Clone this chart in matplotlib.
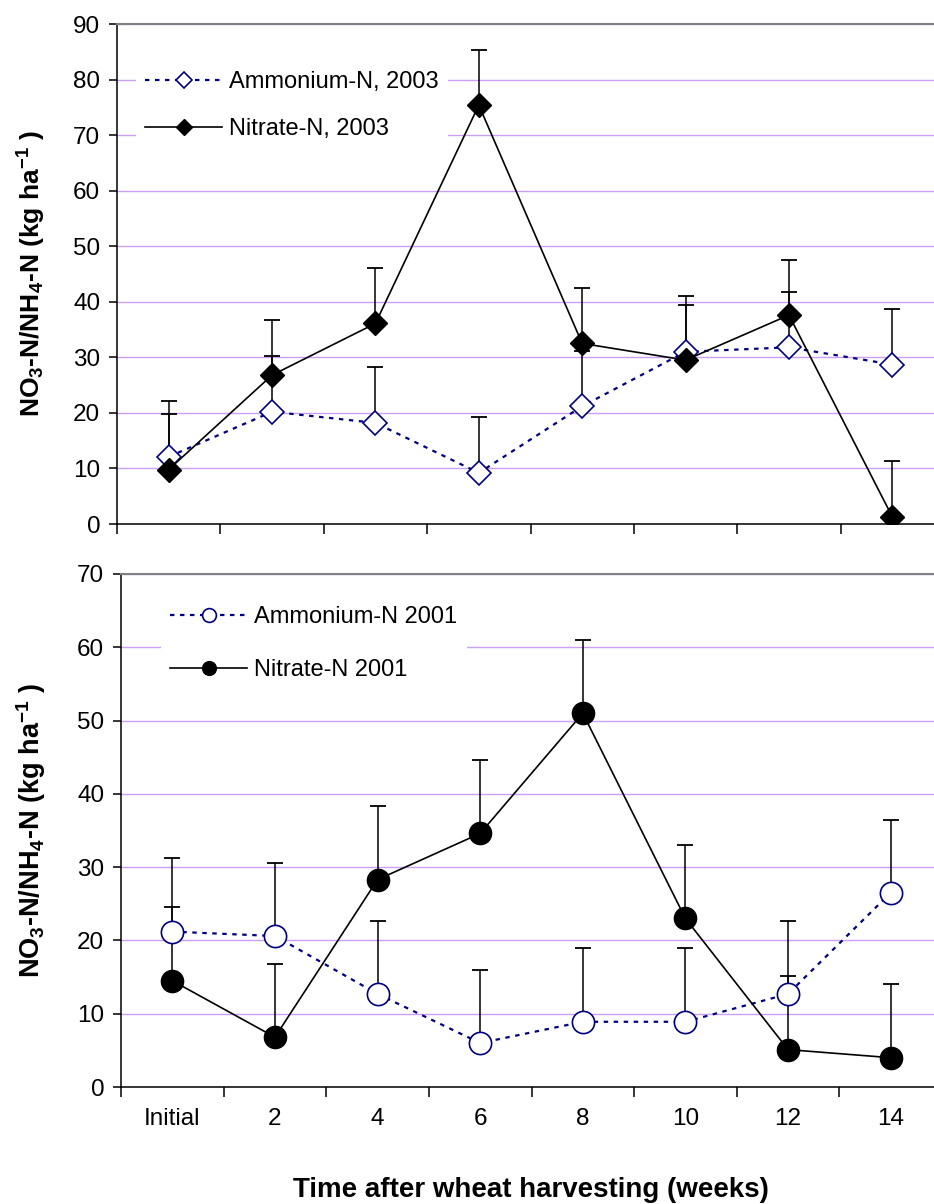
import numpy as np
import matplotlib
matplotlib.use('Agg')
import matplotlib.pyplot as plt

plt.rcParams['font.family'] = ['Liberation Sans', 'DejaVu Sans']
plt.rcParams['mathtext.fontset'] = 'custom'
plt.rcParams['mathtext.rm'] = 'Liberation Sans'
plt.rcParams['mathtext.bf'] = 'Liberation Sans:bold'
plt.rcParams['mathtext.default'] = 'regular'

# categories
weeks = ['Initial', '2', '4', '6', '8', '10', '12', '14']

# 2003 data
ammonium_2003 = [12.1, 20.2, 18.2, 9.2, 21.2, 31.0, 31.8, 28.7]
nitrate_2003 = [9.8, 26.8, 36.1, 75.4, 32.5, 29.5, 37.6, 1.3]
ammonium_2003_err = [10, 10, 10, 10, 10, 10, 10, 10]
nitrate_2003_err = [10, 10, 10, 10, 10, 10, 10, 10]

# 2001 data
ammonium_2001 = [21.2, 20.6, 12.7, 6.0, 8.9, 8.9, 12.7, 26.5]
nitrate_2001 = [14.5, 6.8, 28.3, 34.6, 51.0, 23.0, 5.1, 4.0]
ammonium_2001_err = [10, 10, 10, 10, 10, 10, 10, 10]
nitrate_2001_err = [10, 10, 10, 10, 10, 10, 10, 10]

W, H = 934, 1204
fig = plt.figure(figsize=(W / 100, H / 100), dpi=100)

grid_col = '#c9a0f5'
navy = '#000080'
ylab = r'NO$_{3}$-N/NH$_{4}$-N (kg ha$^{-1}$ )'


def panel(rect, amm, amm_err, nit, nit_err, ymax, amm_label, nit_label,
          marker, ms, show_labels, leg_xy, leg_spacing, ylab_x, ylab_size):
    ax = fig.add_axes(rect)
    x = np.arange(len(weeks))
    amm = np.array(amm)
    nit = np.array(nit)

    # error bars (upper only)
    for vals, err in ((amm, np.array(amm_err)), (nit, np.array(nit_err))):
        ax.vlines(x, vals, vals + err, color='black', lw=1.1, zorder=3)
        ax.plot(x, vals + err, ls='none', marker='_', ms=11, mew=1.3,
                color='black', zorder=3)

    ax.plot(x, amm, ls=(0, (2, 2.5)), lw=1.6, color=navy, marker=marker,
            ms=ms, mfc='white', mec=navy, mew=1.2, label=amm_label, zorder=4)
    ax.plot(x, nit, ls='-', lw=1.2, color='black', marker=marker,
            ms=ms, mfc='black', mec='black', label=nit_label, zorder=5)

    ax.set_xlim(-0.5, len(weeks) - 0.5)
    ax.set_ylim(0, ymax)
    ax.set_yticks(np.arange(0, ymax + 1, 10))
    ax.yaxis.grid(True, color=grid_col, lw=1.0)
    ax.set_axisbelow(True)

    ax.set_xticks(x)
    ax.set_xticks(np.arange(len(weeks) + 1) - 0.5, minor=True)
    ax.tick_params(axis='x', which='major', length=0, pad=15, labelsize=17.5)
    ax.tick_params(axis='x', which='minor', length=7, width=1.1, direction='out')
    ax.tick_params(axis='y', length=6, width=1.1, pad=6, labelsize=17.5)
    if show_labels:
        ax.set_xticklabels(weeks)
    else:
        ax.set_xticklabels([])

    ax.spines['right'].set_visible(False)
    ax.spines['top'].set_color('#808080')
    ax.spines['top'].set_linewidth(1.5)
    ax.spines['left'].set_linewidth(1.1)
    ax.spines['bottom'].set_linewidth(1.1)

    ax.set_ylabel(ylab, fontsize=ylab_size, fontweight='bold')
    ax.yaxis.set_label_coords(ylab_x, 0.5)

    leg = ax.legend(loc='upper left', bbox_to_anchor=leg_xy,
                    bbox_transform=fig.transFigure, borderaxespad=0,
                    fontsize=17, handlelength=3.25, handletextpad=0.3,
                    labelspacing=leg_spacing, markerscale=0.62,
                    frameon=True, fancybox=False, framealpha=1,
                    edgecolor='none', facecolor='white')
    leg.set_zorder(6)
    return ax


panel([117 / W, 1 - 524 / H, 827 / W, 500 / H],
      ammonium_2003, ammonium_2003_err, nitrate_2003, nitrate_2003_err, 90,
      'Ammonium-N, 2003', 'Nitrate-N, 2003', 'D', 12.5, False,
      (136 / W, 1 - 62 / H), 1.05, (48 - 117) / 827, 19)

panel([121 / W, 1 - 1087 / H, 821 / W, 513 / H],
      ammonium_2001, ammonium_2001_err, nitrate_2001, nitrate_2001_err, 70,
      'Ammonium-N 2001', 'Nitrate-N 2001', 'o', 16, True,
      (161 / W, 1 - 597 / H), 1.3, (48 - 121) / 821, 19.5)

fig.text(531 / W, 1 - 1190 / H, 'Time after wheat harvesting (weeks)',
         ha='center', va='center', fontsize=20, fontweight='bold')

fig.savefig('out.png', dpi=100)
